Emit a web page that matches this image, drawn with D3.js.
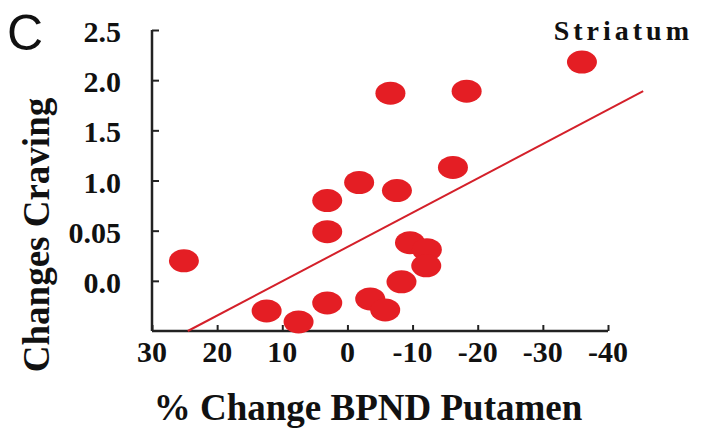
<!DOCTYPE html>
<html>
<head>
  <meta charset="utf-8">
  <script src="https://d3js.org/d3.v7.min.js"></script>
  <style>
    body { margin: 0; background: #fff; }
    svg { display: block; }
  </style>
</head>
<body>
  <div id="chart"></div>
  <script>
    // points: x = % change BPND putamen, y = change in craving
    var bpnd    = [25.1, 12.4, 7.5, 3.1, 3.1, 3.1, -1.8, -3.5, -5.8, -6.6, -7.6, -8.3, -9.6, -12.2, -12.1, -16.2, -18.3, -36.0];
    var craving = [0.20, -0.30, -0.41, 0.80, 0.49, -0.22, 0.98, -0.18, -0.29, 1.87, 0.90, -0.01, 0.38, 0.31, 0.15, 1.13, 1.89, 2.18];

    // fit line ends
    var fitX = [24.5, -45.4];
    var fitY = [-0.5, 1.89];

    var xTicks = [30, 20, 10, 0, -10, -20, -30, -40];
    var yTicks = [0, 0.5, 1.0, 1.5, 2.0, 2.5];
    var yTickLabels = ["0.0", "0.05", "1.0", "1.5", "2.0", "2.5"];

    var width = 702, height = 432;
    var svg = d3.select("#chart").append("svg")
                .attr("width", width)
                .attr("height", height);

    var x = d3.scaleLinear().domain([30, -40]).range([152, 608]);
    var y = d3.scaleLinear().domain([-0.5, 2.5]).range([331, 30]);

    var serif = "'Liberation Serif', 'Times New Roman', serif";
    var red = "#e41e24";

    // axes
    var xAxis = d3.axisTop(x).tickValues(xTicks).tickSize(6).tickFormat("");
    var yAxis = d3.axisRight(y).tickValues(yTicks).tickSize(7).tickFormat("");

    var gx = svg.append("g").attr("transform", "translate(0," + y(-0.5) + ")").call(xAxis);
    var gy = svg.append("g").attr("transform", "translate(" + x(30) + ",0)").call(yAxis);
    [gx, gy].forEach(function(g) {
      g.select(".domain").attr("stroke", "#222").attr("stroke-width", 2.5);
      g.selectAll(".tick line").attr("stroke", "#222").attr("stroke-width", 2);
    });
    // flat ends, no outer tick bumps
    gx.select(".domain").attr("d", "M" + x(30) + ",0H" + x(-40));
    gy.select(".domain").attr("d", "M0," + y(2.5) + "V" + y(-0.5));

    // tick labels
    svg.selectAll(".xlab").data(xTicks).enter().append("text")
       .attr("class", "xlab")
       .attr("x", function(d) { return x(d); })
       .attr("y", 362)
       .attr("text-anchor", "middle")
       .style("font-family", serif).style("font-weight", "bold").style("font-size", "30px")
       .style("fill", "#111")
       .text(function(d) { return d; });

    svg.selectAll(".ylab").data(yTicks).enter().append("text")
       .attr("class", "ylab")
       .attr("x", 121)
       .attr("y", function(d) { return y(d) + 12; })
       .attr("text-anchor", "end")
       .style("font-family", serif).style("font-weight", "bold").style("font-size", "30px")
       .style("fill", "#111")
       .text(function(d, i) { return yTickLabels[i]; });

    // regression line
    svg.append("line")
       .attr("x1", x(fitX[0])).attr("y1", y(fitY[0]))
       .attr("x2", x(fitX[1])).attr("y2", y(fitY[1]))
       .attr("stroke", "#d4202a").attr("stroke-width", 2);

    // points
    svg.selectAll("ellipse").data(bpnd).enter().append("ellipse")
       .attr("cx", function(d) { return x(d); })
       .attr("cy", function(d, i) { return y(craving[i]); })
       .attr("rx", 15).attr("ry", 11.5)
       .style("fill", red);

    // titles
    svg.append("text")
       .attr("x", 7).attr("y", 50)
       .style("font-family", "'Liberation Sans', Arial, sans-serif").style("font-size", "50px")
       .style("fill", "#111")
       .text("C");

    svg.append("text")
       .attr("x", 693).attr("y", 40)
       .attr("text-anchor", "end")
       .style("font-family", serif).style("font-weight", "bold").style("font-size", "28px")
       .style("letter-spacing", "4px")
       .style("fill", "#111")
       .text("Striatum");

    svg.append("text")
       .attr("transform", "translate(49,235) rotate(-90)")
       .attr("text-anchor", "middle")
       .style("font-family", serif).style("font-weight", "bold").style("font-size", "37px")
       .style("fill", "#111")
       .text("Changes Craving");

    svg.append("text")
       .attr("x", 368).attr("y", 420)
       .attr("text-anchor", "middle")
       .style("font-family", serif).style("font-weight", "bold").style("font-size", "37px")
       .style("fill", "#111")
       .text("% Change BPND Putamen");
  </script>
</body>
</html>
